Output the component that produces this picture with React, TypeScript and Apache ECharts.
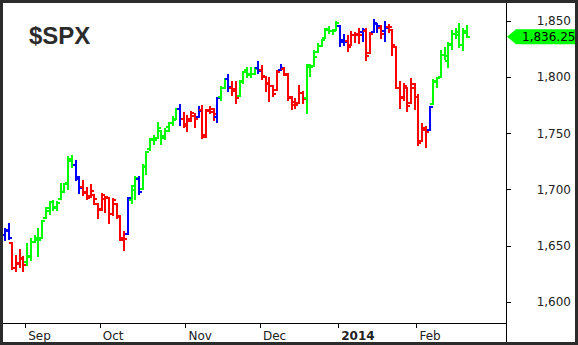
import React, { useEffect, useRef } from 'react';
import * as echarts from 'echarts';

const symbolName = '$SPX';

const dates = [
  '2013-08-23', '2013-08-26', '2013-08-27', '2013-08-28', '2013-08-29', '2013-08-30',
  '2013-09-03', '2013-09-04', '2013-09-05', '2013-09-06', '2013-09-09', '2013-09-10', '2013-09-11', '2013-09-12', '2013-09-13',
  '2013-09-16', '2013-09-17', '2013-09-18', '2013-09-19', '2013-09-20', '2013-09-23', '2013-09-24', '2013-09-25', '2013-09-26',
  '2013-09-27', '2013-09-30',
  '2013-10-01', '2013-10-02', '2013-10-03', '2013-10-04', '2013-10-07', '2013-10-08', '2013-10-09', '2013-10-10', '2013-10-11',
  '2013-10-14', '2013-10-15', '2013-10-16', '2013-10-17', '2013-10-18', '2013-10-21', '2013-10-22', '2013-10-23', '2013-10-24',
  '2013-10-25', '2013-10-28', '2013-10-29', '2013-10-30', '2013-10-31',
  '2013-11-01', '2013-11-04', '2013-11-05', '2013-11-06', '2013-11-07', '2013-11-08', '2013-11-11', '2013-11-12', '2013-11-13',
  '2013-11-14', '2013-11-15', '2013-11-18', '2013-11-19', '2013-11-20', '2013-11-21', '2013-11-22', '2013-11-25', '2013-11-26',
  '2013-11-27', '2013-11-29',
  '2013-12-02', '2013-12-03', '2013-12-04', '2013-12-05', '2013-12-06', '2013-12-09', '2013-12-10', '2013-12-11', '2013-12-12',
  '2013-12-13', '2013-12-16', '2013-12-17', '2013-12-18', '2013-12-19', '2013-12-20', '2013-12-23', '2013-12-24', '2013-12-26',
  '2013-12-27', '2013-12-30', '2013-12-31',
  '2014-01-02', '2014-01-03', '2014-01-06', '2014-01-07', '2014-01-08', '2014-01-09', '2014-01-10', '2014-01-13', '2014-01-14',
  '2014-01-15', '2014-01-16', '2014-01-17', '2014-01-21', '2014-01-22', '2014-01-23', '2014-01-24', '2014-01-27', '2014-01-28',
  '2014-01-29', '2014-01-30', '2014-01-31',
  '2014-02-03', '2014-02-04', '2014-02-05', '2014-02-06', '2014-02-07', '2014-02-10', '2014-02-11', '2014-02-12', '2014-02-13',
  '2014-02-14', '2014-02-18', '2014-02-19', '2014-02-20', '2014-02-21',
];

// empty slots to the right of the last bar
const futureDates = [
  '2014-02-24', '2014-02-25', '2014-02-26', '2014-02-27', '2014-02-28',
  '2014-03-03', '2014-03-04', '2014-03-05', '2014-03-06', '2014-03-07',
];

const opens = [
  1659.9, 1664.3, 1652.5, 1630.3, 1633.5, 1638.9,
  1636.0, 1640.7, 1653.3, 1657.4, 1656.9, 1675.1, 1681.0, 1689.2, 1685.0,
  1691.7, 1697.7, 1705.7, 1727.3, 1722.4, 1711.4, 1702.6, 1698.0, 1694.1,
  1695.5, 1687.3,
  1682.4, 1691.9, 1692.4, 1678.8, 1687.2, 1676.2, 1657.0, 1660.9, 1691.1,
  1699.9, 1709.2, 1700.5, 1720.2, 1736.7, 1745.2, 1746.5, 1752.3, 1747.5,
  1756.0, 1759.4, 1762.9, 1772.3, 1763.2,
  1758.7, 1763.4, 1765.7, 1765.0, 1770.7, 1748.4, 1770.0, 1769.5, 1764.4,
  1782.8, 1790.7, 1798.8, 1790.8, 1789.6, 1783.5, 1797.2, 1806.3, 1802.9,
  1803.5, 1808.0,
  1806.6, 1800.1, 1794.2, 1792.8, 1788.4, 1806.2, 1807.6, 1802.8, 1781.7,
  1778.0, 1777.5, 1786.5, 1781.5, 1809.0, 1810.4, 1822.9, 1828.0, 1835.0,
  1843.0, 1841.5, 1842.6,
  1845.9, 1833.2, 1832.3, 1828.7, 1837.9, 1839.0, 1840.1, 1841.3, 1821.4,
  1840.5, 1848.0, 1844.2, 1841.1, 1844.7, 1842.3, 1827.0, 1791.0, 1783.0,
  1790.2, 1777.2, 1790.9,
  1782.7, 1743.8, 1753.4, 1753.0, 1776.0, 1796.2, 1800.5, 1820.1, 1814.8,
  1828.5, 1839.0, 1838.2, 1829.2, 1841.1,
];

const highs = [
  1664.9, 1669.5, 1652.5, 1641.2, 1646.4, 1640.1,
  1651.4, 1655.7, 1659.2, 1664.8, 1672.4, 1684.1, 1689.1, 1690.0, 1688.7,
  1705.0, 1705.5, 1729.4, 1729.9, 1725.2, 1711.4, 1707.6, 1701.7, 1703.9,
  1695.5, 1687.3,
  1696.6, 1693.9, 1692.4, 1691.9, 1687.2, 1676.8, 1662.5, 1692.6, 1703.4,
  1711.0, 1711.6, 1721.8, 1733.5, 1745.3, 1747.8, 1759.3, 1752.3, 1753.9,
  1759.8, 1765.0, 1772.1, 1775.2, 1768.5,
  1765.7, 1768.8, 1767.0, 1773.7, 1774.5, 1770.8, 1773.4, 1771.8, 1782.0,
  1791.5, 1798.2, 1802.3, 1795.5, 1795.7, 1797.2, 1804.8, 1808.1, 1808.4,
  1808.3, 1813.6,
  1810.0, 1800.1, 1799.8, 1792.8, 1806.0, 1811.5, 1808.5, 1803.0, 1783.0,
  1780.9, 1792.2, 1786.8, 1811.1, 1810.9, 1823.8, 1829.8, 1833.3, 1842.8,
  1844.9, 1842.5, 1849.4,
  1845.9, 1838.2, 1837.2, 1840.1, 1840.0, 1843.2, 1843.2, 1843.5, 1839.3,
  1850.8, 1848.0, 1846.0, 1849.3, 1846.9, 1842.3, 1827.0, 1796.0, 1793.9,
  1790.2, 1798.8, 1793.9,
  1784.8, 1758.7, 1755.8, 1774.1, 1798.0, 1799.9, 1823.5, 1826.6, 1830.3,
  1841.7, 1842.9, 1847.5, 1842.8, 1846.1,
];

const lows = [
  1654.8, 1656.0, 1629.1, 1627.5, 1630.9, 1627.5,
  1633.4, 1637.4, 1653.1, 1640.6, 1656.9, 1675.1, 1678.7, 1682.0, 1682.2,
  1691.7, 1697.7, 1700.4, 1720.2, 1708.9, 1697.1, 1694.9, 1691.9, 1693.1,
  1687.1, 1675.0,
  1682.1, 1680.3, 1670.4, 1677.3, 1674.7, 1655.0, 1646.5, 1660.9, 1688.5,
  1692.1, 1695.9, 1700.5, 1714.1, 1735.7, 1740.7, 1746.5, 1740.5, 1745.5,
  1752.5, 1757.7, 1762.9, 1757.2, 1755.7,
  1752.7, 1761.6, 1755.8, 1764.4, 1746.2, 1746.6, 1767.9, 1762.3, 1760.6,
  1780.2, 1790.7, 1788.0, 1784.7, 1777.2, 1783.5, 1794.7, 1800.6, 1800.8,
  1802.8, 1804.0,
  1798.6, 1787.9, 1779.1, 1783.4, 1788.4, 1806.2, 1801.8, 1780.1, 1772.3,
  1772.5, 1777.5, 1777.1, 1768.0, 1801.4, 1810.3, 1822.9, 1828.0, 1835.0,
  1839.8, 1838.8, 1842.4,
  1827.7, 1829.1, 1823.7, 1828.7, 1831.4, 1830.4, 1832.4, 1815.5, 1821.4,
  1840.5, 1840.3, 1835.2, 1832.4, 1840.9, 1820.1, 1790.3, 1772.9, 1779.5,
  1770.5, 1777.2, 1772.3,
  1739.7, 1743.8, 1737.9, 1753.0, 1776.0, 1791.8, 1800.4, 1816.0, 1809.2,
  1825.6, 1835.0, 1827.0, 1824.6, 1835.6,
];

const closes = [
  1663.5, 1656.8, 1630.5, 1635.0, 1638.2, 1633.0,
  1639.8, 1653.1, 1655.1, 1655.2, 1671.7, 1684.0, 1689.1, 1683.4, 1688.0,
  1697.6, 1704.8, 1725.5, 1722.3, 1709.9, 1701.8, 1697.4, 1692.8, 1698.7,
  1691.8, 1681.6,
  1695.0, 1693.9, 1678.7, 1690.5, 1676.1, 1655.5, 1656.4, 1692.6, 1703.2,
  1710.1, 1698.1, 1721.5, 1733.2, 1744.5, 1744.7, 1754.7, 1746.4, 1752.1,
  1759.8, 1762.1, 1772.0, 1763.3, 1756.5,
  1761.6, 1767.9, 1763.0, 1770.5, 1747.2, 1770.6, 1771.9, 1767.7, 1782.0,
  1790.6, 1798.2, 1791.5, 1787.9, 1781.4, 1795.9, 1804.8, 1802.5, 1802.8,
  1807.2, 1805.8,
  1800.9, 1795.2, 1792.8, 1785.0, 1805.1, 1808.4, 1802.6, 1782.2, 1775.5,
  1775.3, 1786.5, 1781.0, 1810.7, 1809.6, 1818.3, 1828.0, 1833.3, 1842.0,
  1841.4, 1841.1, 1848.4,
  1832.0, 1831.4, 1826.8, 1837.9, 1837.5, 1838.1, 1842.4, 1819.2, 1838.9,
  1848.4, 1845.9, 1838.7, 1843.8, 1844.9, 1828.5, 1790.3, 1781.6, 1792.5,
  1774.2, 1794.2, 1782.6,
  1741.9, 1755.2, 1751.6, 1773.4, 1797.0, 1799.8, 1819.8, 1819.3, 1829.8,
  1838.6, 1840.8, 1828.8, 1839.8, 1836.25,
];

// Impulse colour of each bar: g = green, r = red, b = blue
const impulse = [
  'b', 'b', 'r', 'r', 'r', 'r',
  'g', 'g', 'g', 'g', 'g', 'g', 'g', 'g', 'g',
  'g', 'g', 'g', 'g', 'b', 'b', 'r', 'r', 'r',
  'r', 'r',
  'r', 'r', 'r', 'r', 'r', 'r', 'r', 'b', 'g',
  'g', 'b', 'g', 'g', 'g', 'g', 'g', 'g', 'g',
  'g', 'g', 'g', 'b', 'r',
  'r', 'r', 'r', 'b', 'r', 'r', 'r', 'r', 'b',
  'g', 'g', 'b', 'r', 'r', 'g', 'g', 'g', 'g',
  'g', 'b',
  'r', 'r', 'r', 'r', 'r', 'b', 'r', 'r', 'r',
  'r', 'r', 'r', 'g', 'g', 'g', 'g', 'g', 'g',
  'g', 'g', 'g',
  'b', 'b', 'r', 'r', 'r', 'r', 'b', 'r', 'r',
  'b', 'b', 'r', 'b', 'r', 'r', 'r', 'r', 'r',
  'r', 'r', 'r',
  'r', 'r', 'r', 'b', 'g', 'g', 'g', 'g', 'g',
  'g', 'g', 'g', 'g', 'g',
];

const yTickValues = [1600, 1650, 1700, 1750, 1800, 1850];
const monthNames = ['Jan', 'Feb', 'Mar', 'Apr', 'May', 'Jun', 'Jul', 'Aug', 'Sep', 'Oct', 'Nov', 'Dec'];

const impulseCodes: Record<string, number> = { g: 0, r: 1, b: 2 };
const impulseColors = ['#00ff00', '#ff0000', '#0000ff'];

export default function App() {
  const ref = useRef<HTMLDivElement>(null);

  useEffect(() => {
    if (!ref.current) return;
    const chart = echarts.init(ref.current, undefined, { renderer: 'svg' });

    const allDates = dates.concat(futureDates);
    const monthStarts = new Set<number>();
    for (let i = 1; i < dates.length; i++) {
      if (dates[i].slice(5, 7) !== dates[i - 1].slice(5, 7)) monthStarts.add(i);
    }
    const data = dates.map((d, i) => [i, opens[i], highs[i], lows[i], closes[i], impulseCodes[impulse[i]]]);

    const W = 578;
    const H = 345;
    const plotL = 3;
    const plotT = 3;
    const plotR = 506;
    const plotB = 323;

    chart.setOption({
      animation: false,
      backgroundColor: '#ffffff',
      grid: { left: plotL, top: plotT, width: plotR - plotL, height: plotB - plotT, containLabel: false },
      xAxis: {
        type: 'category',
        data: allDates,
        boundaryGap: true,
        axisLine: { show: true, lineStyle: { color: '#000', width: 1 } },
        axisTick: {
          show: true,
          length: 5,
          alignWithLabel: false,
          interval: (idx: number) => monthStarts.has(idx),
          lineStyle: { color: '#000', width: 1 },
        },
        axisLabel: {
          show: true,
          interval: (idx: number) => monthStarts.has(idx),
          align: 'left',
          margin: 7,
          padding: [0, 0, 0, 1],
          color: '#222',
          fontFamily: 'DejaVu Sans',
          fontSize: 12,
          formatter: (v: string) => {
            const m = parseInt(v.slice(5, 7), 10);
            if (m === 1) return '{y|' + v.slice(0, 4) + '}';
            return monthNames[m - 1];
          },
          rich: {
            y: { fontFamily: 'DejaVu Sans', fontWeight: 'bold', fontSize: 12, color: '#222' },
          },
        },
        splitLine: { show: false },
      },
      yAxis: {
        type: 'value',
        position: 'right',
        min: 1581.3,
        max: 1866.3,
        axisLine: { show: true, lineStyle: { color: '#000', width: 1 } },
        axisTick: { show: true, length: 5, customValues: yTickValues, lineStyle: { color: '#000' } },
        axisLabel: {
          show: true,
          customValues: yTickValues,
          align: 'right',
          margin: 65,
          color: '#222',
          fontFamily: 'DejaVu Sans',
          fontSize: 12,
          formatter: (v: number) => v.toLocaleString('en-US'),
        },
        splitLine: { show: false },
      },
      series: [
        {
          type: 'custom',
          data,
          encode: { x: 0, y: [1, 2, 3, 4] },
          clip: true,
          renderItem: (params: any, api: any) => {
            const idx = api.value(0);
            const xc = Math.round(api.coord([idx, api.value(1)])[0]);
            const yo = Math.round(api.coord([idx, api.value(1)])[1]);
            const yh = Math.round(api.coord([idx, api.value(2)])[1]);
            const yl = Math.round(api.coord([idx, api.value(3)])[1]);
            const yc = Math.round(api.coord([idx, api.value(4)])[1]);
            const color = impulseColors[api.value(5)];
            const style = { stroke: color, lineWidth: 2, lineCap: 'butt' };
            return {
              type: 'group',
              children: [
                { type: 'line', shape: { x1: xc, y1: yh - 1, x2: xc, y2: yl + 1 }, style },
                { type: 'line', shape: { x1: xc - 3, y1: yo, x2: xc, y2: yo }, style },
                { type: 'line', shape: { x1: xc, y1: yc, x2: xc + 3, y2: yc }, style },
              ],
            };
          },
        },
      ],
    });

    const lastClose = closes[closes.length - 1];
    const yLast = chart.convertToPixel({ yAxisIndex: 0 }, lastClose) as number;
    const border = '#2b2b2b';

    chart.setOption({
      graphic: [
        {
          type: 'text',
          left: 29,
          top: 23,
          z: 50,
          style: { text: symbolName, fontFamily: 'Liberation Sans', fontWeight: 'bold', fontSize: 24, fill: '#2b2b2b' },
        },
        {
          type: 'line',
          z: 50,
          shape: { x1: plotR + 0.5, y1: plotB, x2: plotR + 0.5, y2: H },
          style: { stroke: '#000', lineWidth: 1 },
        },
        {
          type: 'polygon',
          z: 60,
          shape: {
            points: [
              [plotR + 1, yLast],
              [plotR + 10, yLast - 7.5],
              [W, yLast - 7.5],
              [W, yLast + 7.5],
              [plotR + 10, yLast + 7.5],
            ],
          },
          style: { fill: '#00ff00' },
        },
        {
          type: 'text',
          z: 61,
          x: 522,
          y: yLast,
          style: {
            text: lastClose.toLocaleString('en-US', { minimumFractionDigits: 2 }),
            fontFamily: 'DejaVu Sans',
            fontSize: 12,
            fill: '#000',
            verticalAlign: 'middle',
            align: 'left',
          },
        },
        { type: 'rect', z: 100, shape: { x: 0, y: 0, width: W, height: 3 }, style: { fill: border } },
        { type: 'rect', z: 100, shape: { x: 0, y: H - 3, width: W, height: 3 }, style: { fill: border } },
        { type: 'rect', z: 100, shape: { x: 0, y: 0, width: 3, height: H }, style: { fill: border } },
        { type: 'rect', z: 100, shape: { x: W - 3, y: 0, width: 3, height: H }, style: { fill: border } },
      ],
    });

    return () => chart.dispose();
  }, []);

  return <div ref={ref} style={{ position: 'absolute', left: 0, top: 0, width: 578, height: 345 }} />;
}
